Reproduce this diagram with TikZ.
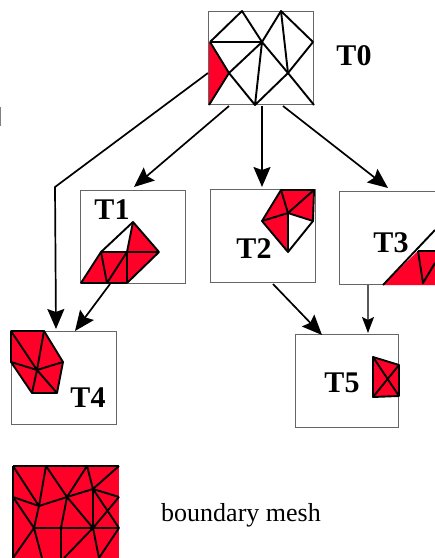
\documentclass[tikz,border=0pt]{standalone}
\usepackage{fontspec}
\setmainfont{Liberation Serif}
\usetikzlibrary{arrows.meta}
\definecolor{meshred}{RGB}{255,0,40}
\tikzset{
    box/.style={draw=black!60, line width=1pt, minimum width=#1, minimum height=93pt, inner sep=0pt},
    box/.default=105pt,
    mesh/.style={draw=black, line width=1.9pt, line join=round},
    thinmesh/.style={draw=black, line width=1.1pt, line join=round},
    meshfill/.style={fill=meshred, draw=black, line width=1.9pt, line join=round},
    tag/.style={font=\fontsize{30}{30}\selectfont\bfseries, inner sep=0pt},
    flow/.style={draw=black, line width=1.7pt, -{Stealth[length=20pt, width=17pt, inset=3pt]}},
    thinflow/.style={draw=black!65, line width=1.2pt, -{Stealth[length=16pt, width=12pt, inset=3pt, color=black]}}
}

\begin{document}
\begin{tikzpicture}[x=1pt, y=-1pt]
        \useasboundingbox (0, 0) rectangle (435, 558);

        \node [box] (B0) at (261, 58) {};
        \node [box] (B1) at (132.5, 237) {};
        \node [box] (B2) at (262.5, 236) {};
        \node [box=110pt] (B3) at (394.5, 237.5) {};
        \node [box] (B4) at (63.5, 377.5) {};
        \node [box=103pt] (B5) at (347, 380.5) {};

        % T0
        \fill [meshred] (209, 42) -- (229, 73) -- (209, 105) -- cycle;
        \draw [mesh] (210, 42) -- (242, 11) -- (262, 42) -- (281, 11) -- (313, 42) -- (288, 73) -- (314, 105);
        \draw [thinmesh] (210, 42) -- (262, 42);
        \draw [mesh] (210, 42) -- (229, 73) -- (209, 105);
        \draw [mesh] (262, 42) -- (229, 73) -- (255, 105) -- (262, 42) -- (288, 73) -- (255, 105);
        \draw [mesh] (281, 11) -- (288, 73);

        % T1
        \fill [meshred] (81, 283) -- (101, 252) -- (127, 252) -- (133, 222) -- (159, 252) -- (127, 283) -- cycle;
        \draw [mesh] (81, 283) -- (101, 252) -- (133, 222) -- (159, 252) -- (127, 283);
        \draw [thinmesh] (101, 252) -- (159, 252);
        \draw [mesh] (101, 252) -- (107, 283) -- (127, 252) -- (133, 222);
        \draw [thinmesh] (127, 252) -- (127, 283);
        \draw [thinmesh] (81, 283) -- (127, 283);

        % T2
        \fill [meshred] (281, 190) -- (314, 190) -- (313, 221) -- (288, 213) -- (288, 252) -- (262, 221) -- cycle;
        \draw [mesh] (281, 190) -- (314, 190) -- (313, 221) -- (288, 252) -- (262, 221) -- cycle;
        \draw [mesh] (281, 190) -- (288, 213) -- (314, 190);
        \draw [mesh] (262, 221) -- (288, 213) -- (313, 221);
        \draw [thinmesh] (288, 213) -- (288, 252);

        % T3
        \fill [meshred] (383, 285) -- (418, 251) -- (435, 251) -- (435, 285) -- cycle;
        \draw [mesh] (383, 285) -- (435, 230);
        \draw [thinmesh] (418, 251) -- (435, 251);
        \draw [mesh] (418, 251) -- (423, 283) -- (435, 263);

        % T4
        \fill [meshfill] (11, 331) -- (44, 331) -- (63, 362) -- (57, 393) -- (32, 393) -- (11, 362) -- cycle;
        \draw [mesh] (11, 331) -- (37, 370) -- (44, 331);
        \draw [mesh] (11, 362) -- (37, 370) -- (63, 362);
        \draw [mesh] (32, 393) -- (37, 370) -- (57, 393);

        % T5
        \fill [meshfill] (373, 357) -- (399, 365) -- (399, 396) -- (373, 397) -- cycle;
        \draw [mesh] (373, 357) -- (399, 396);
        \draw [mesh] (399, 365) -- (373, 397);

        % boundary mesh
        \fill [meshred] (13, 466) rectangle (119, 558);
        \draw [mesh] (13, 558) -- (13, 466);
        \draw [thinmesh] (13, 466) -- (119, 466);
        \draw [mesh] (13, 466) -- (39, 506) -- (46, 466) -- (67, 497) -- (87, 466) -- (93, 489) -- (119, 466);
        \draw [mesh] (13, 497) -- (39, 506) -- (67, 497) -- (93, 489) -- (119, 497);
        \draw [mesh] (13, 497) -- (34, 528) -- (39, 506);
        \draw [thinmesh] (34, 528) -- (119, 528);
        \draw [mesh] (61, 528) -- (67, 497) -- (93, 528) -- (119, 497);
        \draw [thinmesh] (93, 489) -- (93, 528);
        \draw [mesh] (93, 489) -- (119, 528);
        \draw [thinmesh] (61, 528) -- (61, 558);
        \draw [mesh] (13, 558) -- (34, 528) -- (42, 558);
        \draw [mesh] (64, 558) -- (93, 528) -- (99, 558) -- (119, 528);

        \node [tag] (T0) at (354, 56) {T0};
        \node [tag] (T1) at (112, 210) {T1};
        \node [tag] (T2) at (254, 249) {T2};
        \node [tag] (T3) at (391, 243) {T3};
        \node [tag] (T4) at (88, 398) {T4};
        \node [tag] (T5) at (342, 383) {T5};
        \node [font=\fontsize{26}{26}\selectfont, inner sep=0pt] (BM) at (241, 515.5) {boundary mesh};

        \coordinate (P0) at (208, 73);
        \coordinate (P1) at (55, 187);
        \coordinate (P2) at (229, 106);
        \coordinate (P3) at (262, 106);
        \coordinate (P4) at (283, 106);
        \coordinate (P5) at (110, 284);
        \coordinate (P6) at (273, 284);
        \coordinate (P7) at (368, 285);
        \coordinate (E1) at (134, 187);
        \coordinate (E2) at (262, 187);
        \coordinate (E3) at (388, 188);
        \coordinate (E4) at (56, 329);
        \coordinate (E5) at (75, 331);
        \coordinate (E6) at (322, 335);
        \coordinate (E7) at (368, 333);
        \draw [flow] (P0) -- (P1) -- (E4);
        \draw [flow] (P2) -- (E1);
        \draw [flow] (P3) -- (E2);
        \draw [flow] (P4) -- (E3);
        \draw [flow] (P5) -- (E5);
        \draw [flow] (P6) -- (E6);
        \draw [thinflow] (P7) -- (E7);

        \coordinate (G0) at (0.5, 107);
        \coordinate (G1) at (0.5, 126);
        \draw [draw=black!50, line width=1pt] (G0) -- (G1);
\end{tikzpicture}
\end{document}
